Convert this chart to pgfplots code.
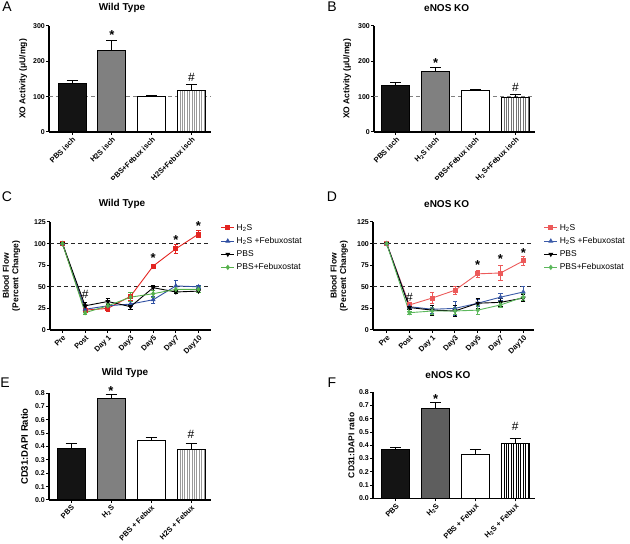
\documentclass[border=0pt]{standalone}
\usepackage{fontspec}
\setmainfont{Liberation Sans}
\usepackage{pgfplots}
\pgfplotsset{compat=1.18}
\usetikzlibrary{patterns.meta}
\definecolor{barblack}{HTML}{141414}
\definecolor{bargray}{HTML}{808080}
\definecolor{bardark}{HTML}{5E5E5E}
\definecolor{cred}{HTML}{E32420}
\definecolor{cblue}{HTML}{2F4FA2}
\definecolor{cgreen}{HTML}{55B04A}
\definecolor{dred}{HTML}{EC5A5A}
\definecolor{dblue}{HTML}{3B5BA8}
\definecolor{dgreen}{HTML}{5CB85C}
\pgfplotsset{
 gp/.style={scale only axis, anchor=south west, axis lines*=left,
  axis line style={line width=1.1pt, black}, tick align=outside,
  tick style={line width=1pt, black}, major tick length=3pt,
  /pgf/number format/assume math mode=true,
  yticklabel style={font=\bfseries\fontsize{7}{8}\selectfont, inner sep=1pt},
  xticklabel style={font=\bfseries\fontsize{7.5}{8}\selectfont, rotate=45, anchor=north east, inner sep=1pt},
  ylabel style={font=\bfseries\fontsize{8.5}{9.5}\selectfont, anchor=center, align=center},
  clip=false, ymin=0, xtick={0,1,2,3}},
 barp/.style={ybar, bar width=28pt, bar shift=0pt, draw=black, line width=1pt,
  error bars/.cd, y dir=plus, y explicit, error bar style={line width=1pt, black},
  error mark options={rotate=90, mark size=5.5pt, line width=1pt, black}},
 lp/.style={line width=0.9pt, mark size=2pt,
  error bars/.cd, y dir=both, y explicit, error bar style={line width=0.8pt, solid},
  error mark options={rotate=90, mark size=2.2pt, line width=0.8pt}},
 leg/.style={legend style={draw=none, fill=none, at={(axis description cs:1.06,1.0)}, anchor=north west,
  font=\fontsize{8.5}{9}\selectfont, row sep=1.6pt, legend cell align=left, inner sep=0pt},
  legend image code/.code={\draw[mark repeat=2,mark phase=2,##1] plot coordinates {(0pt,0pt) (6.5pt,0pt) (13pt,0pt)};}},
}
\tikzset{star/.style={font=\bfseries\fontsize{13}{14}\selectfont, yshift=-2.7pt},
 hash/.style={font=\fontsize{12}{14}\selectfont}}
\begin{document}
\begin{tikzpicture}
\useasboundingbox (0pt,0pt) rectangle (630pt,544pt);
% ---------- A ----------
\begin{scope}
\clip (0pt,364pt) rectangle (315pt,544pt);
\node[font=\fontsize{14}{15}\selectfont] at (7pt,537pt) {A};
\node[font=\bfseries\fontsize{10}{12}\selectfont] at (122pt,536pt) {Wild Type};
\begin{axis}[gp, at={(49pt,412pt)}, width=162pt, height=106pt,
 xmin=-0.58, xmax=3.49, ymax=300, ytick={0,100,200,300},
 xticklabels={PBS isch,H2S isch,PBS+Febux isch,H2S+Febux isch},
 ylabel={XO Activity (μU/mg)}, ylabel style={at={(axis description cs:-0.16,0.5)}}]
\draw[gray, line width=1.1pt, dash pattern=on 4pt off 3pt] (axis cs:-0.58,100) -- (axis cs:3.49,100);
\addplot[fill=barblack, barp] coordinates {(0,136) +- (0,10)};
\addplot[fill=bargray, barp] coordinates {(1,231) +- (0,27)};
\addplot[fill=white, barp] coordinates {(2,101) +- (0,2)};
\addplot[fill=white, postaction={pattern={Lines[angle=90,distance=2.4pt,line width=0.7pt]}, pattern color=gray!80}, barp] coordinates {(3,118) +- (0,17)};
\node[star] at (axis cs:1,281) {*};
\node[hash] at (axis cs:3,155) {\#};
\end{axis}
\end{scope}
% ---------- B ----------
\begin{scope}
\clip (315pt,364pt) rectangle (630pt,544pt);
\node[font=\fontsize{14}{15}\selectfont] at (332pt,537pt) {B};
\node[font=\bfseries\fontsize{10}{12}\selectfont] at (446.7pt,536pt) {eNOS KO};
\begin{axis}[gp, at={(374pt,412pt)}, width=161pt, height=106pt,
 xmin=-0.55, xmax=3.49, ymax=300, ytick={0,100,200,300},
 xticklabels={PBS isch,H\textsubscript{2}S isch,PBS+Febux isch,H\textsubscript{2}S+Febux isch},
 ylabel={XO Activity (μU/mg)}, ylabel style={at={(axis description cs:-0.167,0.5)}}]
\draw[gray, line width=1.1pt, dash pattern=on 4pt off 3pt] (axis cs:-0.55,100) -- (axis cs:3.49,100);
\addplot[fill=barblack, barp] coordinates {(0,133) +- (0,6)};
\addplot[fill=bargray, barp] coordinates {(1,172) +- (0,10)};
\addplot[fill=white, barp] coordinates {(2,118) +- (0,3)};
\addplot[fill=white, postaction={pattern={Lines[angle=90,distance=2.4pt,line width=0.7pt]}, pattern color=gray!90!black}, barp] coordinates {(3,99) +- (0,7)};
\node[star] at (axis cs:1,204) {*};
\node[hash] at (axis cs:3,127) {\#};
\end{axis}
\end{scope}
% ---------- C ----------
\begin{scope}
\clip (0pt,184pt) rectangle (315pt,364pt);
\node[font=\fontsize{14}{15}\selectfont] at (7pt,347pt) {C};
\node[font=\bfseries\fontsize{10}{12}\selectfont] at (122pt,340pt) {Wild Type};
\begin{axis}[gp, leg, at={(50pt,214pt)}, width=161pt, height=108pt,
 xmin=-0.55, xmax=6.55, ymax=125, ytick={0,25,50,75,100,125}, xtick={0,...,6},
 xticklabels={Pre,Post,Day 1,Day3,Day5,Day7,Day10},
 ylabel={Blood Flow\\(Percent Change)}, ylabel style={at={(axis description cs:-0.24,0.5)}}]
\draw[black!85, line width=1pt, dash pattern=on 4pt off 3pt] (axis cs:-0.55,100) -- (axis cs:6.55,100);
\draw[black!85, line width=1pt, dash pattern=on 4pt off 3pt] (axis cs:-0.55,50) -- (axis cs:6.55,50);
\addplot[cred, mark=square*, lp] coordinates {(0,100) +- (0,0) (1,23) +- (0,3) (2,25) +- (0,3) (3,39) +- (0,5) (4,74) +- (0,2) (5,94) +- (0,5) (6,111) +- (0,4)};
\addplot[cblue, mark=triangle*, lp] coordinates {(0,100) +- (0,0) (1,24) +- (0,3) (2,28) +- (0,3) (3,30) +- (0,3) (4,35) +- (0,4) (5,51) +- (0,6) (6,50) +- (0,2)};
\addplot[black, mark=triangle*, mark options={rotate=180}, lp] coordinates {(0,100) +- (0,0) (1,28) +- (0,4) (2,33) +- (0,3) (3,27) +- (0,3) (4,49) +- (0,3) (5,44) +- (0,2) (6,45) +- (0,2)};
\addplot[cgreen, mark=diamond*, lp] coordinates {(0,100) +- (0,0) (1,20) +- (0,2) (2,28) +- (0,3) (3,38) +- (0,5) (4,42) +- (0,4) (5,47) +- (0,3) (6,47) +- (0,3)};
\legend{H\textsubscript{2}S, H\textsubscript{2}S +Febuxostat, PBS, PBS+Febuxostat}
\node[star] at (axis cs:4,87) {*};
\node[star] at (axis cs:5,107) {*};
\node[star] at (axis cs:6,123) {*};
\node[hash] at (axis cs:1,41) {\#};
\end{axis}
\end{scope}
% ---------- D ----------
\begin{scope}
\clip (315pt,184pt) rectangle (630pt,364pt);
\node[font=\fontsize{14}{15}\selectfont] at (332pt,347pt) {D};
\node[font=\bfseries\fontsize{10}{12}\selectfont] at (446.7pt,340pt) {eNOS KO};
\begin{axis}[gp, leg, at={(373pt,214pt)}, width=161pt, height=108pt,
 xmin=-0.6, xmax=6.47, ymax=125, ytick={0,25,50,75,100,125}, xtick={0,...,6},
 xticklabels={Pre,Post,Day 1,Day3,Day5,Day7,Day10},
 ylabel={Blood Flow\\(Percent Change)}, ylabel style={at={(axis description cs:-0.21,0.5)}}]
\draw[black!85, line width=1pt, dash pattern=on 4pt off 3pt] (axis cs:-0.6,100) -- (axis cs:6.47,100);
\draw[black!85, line width=1pt, dash pattern=on 4pt off 3pt] (axis cs:-0.6,50) -- (axis cs:6.47,50);
\addplot[dred, mark=square*, lp] coordinates {(0,100) +- (0,0) (1,29) +- (0,2) (2,37) +- (0,6) (3,46) +- (0,5) (4,65) +- (0,4) (5,66) +- (0,9) (6,80) +- (0,5)};
\addplot[dblue, mark=triangle*, lp] coordinates {(0,100) +- (0,0) (1,27) +- (0,2) (2,24) +- (0,5) (3,25) +- (0,8) (4,31) +- (0,4) (5,38) +- (0,4) (6,44) +- (0,6)};
\addplot[black, mark=triangle*, mark options={rotate=180}, lp] coordinates {(0,100) +- (0,0) (1,26) +- (0,2) (2,23) +- (0,6) (3,22) +- (0,6) (4,31) +- (0,6) (5,32) +- (0,5) (6,37) +- (0,4)};
\addplot[dgreen, mark=diamond*, lp] coordinates {(0,100) +- (0,0) (1,20) +- (0,2) (2,22) +- (0,4) (3,22) +- (0,4) (4,23) +- (0,5) (5,29) +- (0,3) (6,38) +- (0,4)};
\legend{H\textsubscript{2}S, H\textsubscript{2}S +Febuxostat, PBS, PBS+Febuxostat}
\node[star] at (axis cs:4,78) {*};
\node[star] at (axis cs:5,85) {*};
\node[star] at (axis cs:6,92) {*};
\node[hash] at (axis cs:1,38) {\#};
\end{axis}
\end{scope}
% ---------- E ----------
\begin{scope}
\clip (0pt,0pt) rectangle (315pt,184pt);
\node[font=\fontsize{14}{15}\selectfont] at (5pt,161pt) {E};
\node[font=\bfseries\fontsize{10}{12}\selectfont] at (125pt,171pt) {Wild Type};
\begin{axis}[gp, at={(49pt,44pt)}, width=162pt, height=107pt,
 xmin=-0.55, xmax=3.5, ymax=0.8, ytick={0,0.1,...,0.8},
 yticklabel style={/pgf/number format/.cd, fixed, fixed zerofill, precision=1},
 xticklabels={PBS,H\textsubscript{2}S,PBS + Febux,H2S + Febux},
 ylabel={CD31:DAPI Ratio}, ylabel style={at={(axis description cs:-0.152,0.5)}, font=\bfseries\fontsize{9.5}{10}\selectfont}]
\addplot[fill=barblack, barp] coordinates {(0,0.385) +- (0,0.038)};
\addplot[fill=bargray, barp] coordinates {(1,0.757) +- (0,0.033)};
\addplot[fill=white, barp] coordinates {(2,0.442) +- (0,0.025)};
\addplot[fill=white, postaction={pattern={Lines[angle=90,distance=2.4pt,line width=0.7pt]}, pattern color=gray!80}, barp] coordinates {(3,0.38) +- (0,0.04)};
\node[star] at (axis cs:1,0.838) {*};
\node[hash] at (axis cs:3,0.49) {\#};
\end{axis}
\end{scope}
% ---------- F ----------
\begin{scope}
\clip (315pt,0pt) rectangle (630pt,184pt);
\node[font=\fontsize{14}{15}\selectfont] at (332pt,161pt) {F};
\node[font=\bfseries\fontsize{10}{12}\selectfont] at (448pt,169pt) {eNOS KO};
\begin{axis}[gp, at={(373pt,45.7pt)}, width=162pt, height=106pt,
 xmin=-0.574, xmax=3.5, ymax=0.8, ytick={0,0.1,...,0.8},
 yticklabel style={/pgf/number format/.cd, fixed, fixed zerofill, precision=1},
 xticklabels={PBS,H\textsubscript{2}S,PBS + Febux,H\textsubscript{2}S + Febux},
 ylabel={CD31:DAPI ratio}, ylabel style={at={(axis description cs:-0.134,0.5)}}]
\addplot[fill=barblack, barp] coordinates {(0,0.365) +- (0,0.02)};
\addplot[fill=bardark, barp] coordinates {(1,0.674) +- (0,0.048)};
\addplot[fill=white, barp] coordinates {(2,0.327) +- (0,0.043)};
\addplot[fill=white, postaction={pattern={Lines[angle=90,distance=2.4pt,line width=0.7pt]}, pattern color=black}, barp] coordinates {(3,0.413) +- (0,0.04)};
\node[star] at (axis cs:1,0.772) {*};
\node[hash] at (axis cs:3,0.54) {\#};
\end{axis}
\end{scope}
\end{tikzpicture}
\end{document}
